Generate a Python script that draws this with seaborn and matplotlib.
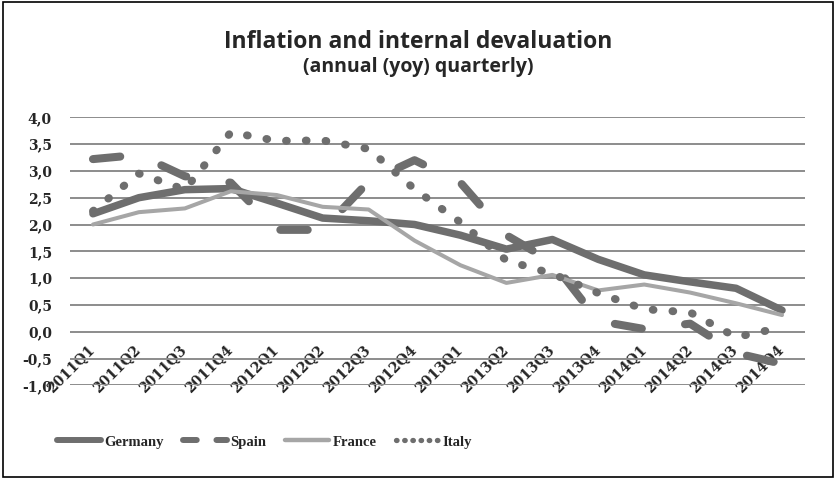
import numpy as np
import pandas as pd
import matplotlib
matplotlib.use("Agg")
import matplotlib.pyplot as plt
import matplotlib.transforms as mtransforms
from matplotlib.lines import Line2D
from matplotlib.patches import Rectangle
import seaborn as sns


quarters = ["2011Q1", "2011Q2", "2011Q3", "2011Q4",
            "2012Q1", "2012Q2", "2012Q3", "2012Q4",
            "2013Q1", "2013Q2", "2013Q3", "2013Q4",
            "2014Q1", "2014Q2", "2014Q3", "2014Q4"]

germany = [2.2, 2.5, 2.65, 2.67, 2.4, 2.12, 2.07, 2.0,
           1.8, 1.54, 1.72, 1.35, 1.06, 0.93, 0.81, 0.4]
spain = [3.22, 3.3, 2.9, 2.78, 1.9, 1.9, 2.8, 3.2,
         2.78, 1.8, 1.3, 0.2, 0.05, 0.15, -0.4, -0.6]
france = [2.0, 2.23, 2.3, 2.62, 2.55, 2.33, 2.28, 1.7,
          1.24, 0.91, 1.06, 0.77, 0.88, 0.73, 0.53, 0.31]
italy = [2.25, 2.95, 2.65, 3.72, 3.56, 3.57, 3.41, 2.66,
         2.04, 1.33, 1.08, 0.72, 0.42, 0.36, -0.1, 0.08]

DARK = "#6e6e6e"
LIGHT = "#a6a6a6"
GRID = "#8c8c8c"

sns.set_style("white")
plt.rcParams["font.family"] = ["DejaVu Serif"]

fig = plt.figure(figsize=(8.36, 4.79), dpi=100)
ax = fig.add_axes([70 / 836, 1 - 385.3 / 479, 735 / 836, 268 / 479])

x = np.arange(len(quarters))
df = pd.DataFrame({"x": x, "Germany": germany, "Spain": spain,
                   "France": france, "Italy": italy})

# series styles: Germany solid, Spain long dash, France thin light, Italy dots
sns.lineplot(data=df, x="x", y="Germany", ax=ax, color=DARK, lw=5.4,
             solid_capstyle="round", solid_joinstyle="round", legend=False)
sns.lineplot(data=df, x="x", y="Spain", ax=ax, color=DARK, lw=5.8,
             linestyle=(0, (3.4, 5.4)), dash_capstyle="round",
             dash_joinstyle="round", legend=False)
sns.lineplot(data=df, x="x", y="France", ax=ax, color=LIGHT, lw=2.9,
             solid_joinstyle="round", legend=False)
sns.lineplot(data=df, x="x", y="Italy", ax=ax, color=DARK, lw=5.7,
             linestyle=(0, (0.1, 2.4)), dash_capstyle="round", legend=False)

# category axis crosses at zero (must come before tick label styling)
ax.spines["bottom"].set_position(("data", 0))
for s in ["top", "right", "left", "bottom"]:
    ax.spines[s].set_visible(False)

ax.set_xlim(-0.5, len(quarters) - 0.5)
ax.set_ylim(-1.0, 4.0)
yt = np.arange(-1.0, 4.01, 0.5)
ax.set_yticks(yt)
ax.set_yticklabels([f"{v:.1f}".replace(".", ",") for v in yt],
                   fontsize=10, fontweight="bold")
ax.yaxis.grid(True, color=GRID, lw=1.4)
ax.set_axisbelow(True)

ax.set_xticks(x)
ax.set_xticklabels(quarters, fontsize=10, fontweight="bold", rotation=45,
                   ha="right", va="top", rotation_mode="anchor")
ax.tick_params(axis="both", length=0)
ax.tick_params(axis="y", pad=13)
ax.tick_params(axis="x", pad=8)
shift = mtransforms.ScaledTranslation(-4 / 72, 0, fig.dpi_scale_trans)
for lab in ax.get_xticklabels():
    lab.set_transform(lab.get_transform() + shift)
ax.set_xlabel("")
ax.set_ylabel("")

# legend keys are drawn smaller than the plotted lines, as in the original
handles = [
    Line2D([], [], color=DARK, lw=4.3, solid_capstyle="round"),
    Line2D([], [], color=DARK, lw=4.3, linestyle=(0, (2.3, 3.3)),
           dash_capstyle="round"),
    Line2D([], [], color=LIGHT, lw=3.2, solid_capstyle="round"),
    Line2D([], [], color=DARK, lw=3.8, linestyle=(0, (0.1, 1.45)),
           dash_capstyle="round"),
]
labels = ["Germany", "Spain", "France", "Italy"]
fig.legend(handles, labels, loc="center left", bbox_to_anchor=(57 / 836, 1 - 442 / 479),
           ncol=4, frameon=False, borderpad=0, borderaxespad=0,
           handlelength=3.0, handletextpad=0.25, columnspacing=1.3,
           prop={"family": "Liberation Serif", "weight": "bold", "size": 10.5})

fig.text(0.5, 1 - 42 / 479, "Inflation and internal devaluation", ha="center",
         va="center", fontsize=16.5, fontweight="bold", family="Open Sans")
fig.text(0.5, 1 - 67 / 479, "(annual (yoy) quarterly)", ha="center",
         va="center", fontsize=14, fontweight="bold", family="Open Sans")

fig.patches.append(Rectangle((3 / 836, 2 / 479), 830 / 836, 475 / 479,
                             transform=fig.transFigure, fill=False,
                             ec="black", lw=1.2))

fig.savefig("out.png", dpi=100)
